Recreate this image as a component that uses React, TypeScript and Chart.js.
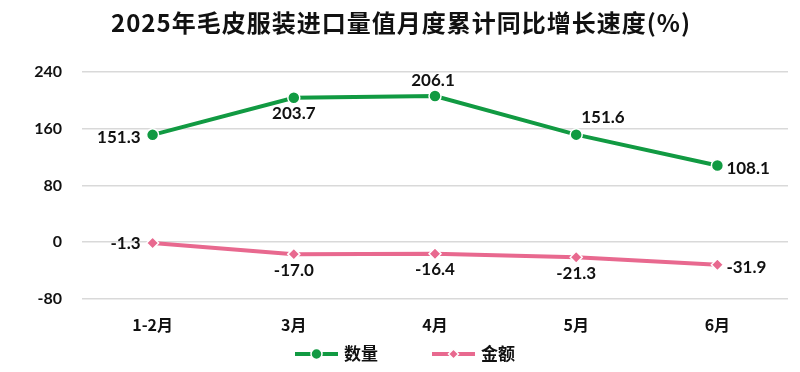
import React, { useEffect, useRef } from "react";
import { Chart, registerables } from "chart.js";

Chart.register(...registerables);

const TITLE = "2025年毛皮服装进口量值月度累计同比增长速度(%)";
const categories = ["1-2月", "3月", "4月", "5月", "6月"];
const seriesNames = ["数量", "金额"];
const quantityValues = [151.3, 203.7, 206.1, 151.6, 108.1];
const amountValues = [-1.3, -17.0, -16.4, -21.3, -31.9];
const yTicks = [-80, 0, 80, 160, 240];

const quantityLabelPos = ["left", "below", "above", "aboveRight", "right"];
const amountLabelPos = ["left", "below", "below", "below", "right"];

const GREEN = "#119a42";
const PINK = "#e8698f";
const NUM_FONT = 'Lato, "Noto Sans CJK SC", sans-serif';
const CJK_FONT = '"Noto Sans CJK SC", Lato, sans-serif';

const labelPlugin = {
  id: "customLabels",
  afterDatasetsDraw(chart: any) {
    const ctx = chart.ctx;
    ctx.save();
    ctx.font = `bold 17px ${NUM_FONT}`;
    ctx.fillStyle = "#111";
    chart.data.datasets.forEach((ds: any, di: number) => {
      const meta = chart.getDatasetMeta(di);
      const posArr = di === 0 ? quantityLabelPos : amountLabelPos;
      meta.data.forEach((pt: any, i: number) => {
        const v = ds.data[i];
        const txt = v.toFixed(1);
        const pos = posArr[i];
        let x = pt.x;
        let y = pt.y;
        ctx.textBaseline = "middle";
        if (pos === "left") {
          ctx.textAlign = "right";
          x -= 12;
          y += di === 0 ? 3 : 0;
        } else if (pos === "right") {
          ctx.textAlign = "left";
          x += 9;
          y += 3;
        } else if (pos === "below") {
          ctx.textAlign = "center";
          y += 16;
        } else if (pos === "above") {
          ctx.textAlign = "center";
          x -= 2;
          y -= 16;
        } else if (pos === "aboveRight") {
          ctx.textAlign = "left";
          x += 5;
          y -= 17;
        }
        ctx.fillText(txt, x, y);
      });
    });
    ctx.restore();
  },
};

const titleLegendPlugin = {
  id: "titleLegend",
  afterDraw(chart: any) {
    const ctx = chart.ctx;
    ctx.save();
    // title
    ctx.font = `bold 24px ${CJK_FONT}`;
    ctx.fillStyle = "#111";
    ctx.textAlign = "center";
    ctx.textBaseline = "middle";
    try {
      (ctx as any).letterSpacing = "1px";
    } catch (e) {}
    ctx.fillText(TITLE, 401, 23);
    try {
      (ctx as any).letterSpacing = "0px";
    } catch (e) {}
    // legend
    ctx.font = `bold 17px ${CJK_FONT}`;
    const lineLen = 43;
    const gapText = 6;
    const gapItems = 54;
    const widths = seriesNames.map((n) => ctx.measureText(n).width);
    const total = widths.reduce((a, b) => a + b, 0) + 2 * (lineLen + gapText) + gapItems;
    let x = 405 - total / 2;
    const y = 354;
    const colors = [GREEN, PINK];
    seriesNames.forEach((n, i) => {
      ctx.strokeStyle = colors[i];
      ctx.lineWidth = 4;
      ctx.beginPath();
      ctx.moveTo(x, y);
      ctx.lineTo(x + lineLen, y);
      ctx.stroke();
      const cx = x + lineLen / 2;
      ctx.fillStyle = colors[i];
      ctx.strokeStyle = "#fff";
      ctx.lineWidth = 1.5;
      ctx.beginPath();
      if (i === 0) {
        ctx.arc(cx, y, 5.5, 0, Math.PI * 2);
      } else {
        const r = 5;
        ctx.moveTo(cx, y - r);
        ctx.lineTo(cx + r, y);
        ctx.lineTo(cx, y + r);
        ctx.lineTo(cx - r, y);
        ctx.closePath();
      }
      ctx.fill();
      ctx.stroke();
      ctx.fillStyle = "#111";
      ctx.textAlign = "left";
      ctx.textBaseline = "middle";
      ctx.fillText(n, x + lineLen + gapText, y);
      x += lineLen + gapText + widths[i] + gapItems;
    });
    ctx.restore();
  },
};

export default function App() {
  const ref = useRef<HTMLCanvasElement>(null);
  useEffect(() => {
    if (!ref.current) return;
    const chart = new Chart(ref.current, {
      type: "line",
      data: {
        labels: categories,
        datasets: [
          {
            label: seriesNames[0],
            data: quantityValues,
            borderColor: GREEN,
            backgroundColor: GREEN,
            borderWidth: 4,
            pointStyle: "circle",
            pointRadius: 6,
            pointBorderColor: "#fff",
            pointBorderWidth: 1.5,
            pointBackgroundColor: GREEN,
            tension: 0,
          },
          {
            label: seriesNames[1],
            data: amountValues,
            borderColor: PINK,
            backgroundColor: PINK,
            borderWidth: 4,
            pointStyle: "rectRot",
            pointRadius: 6,
            pointBorderColor: "#fff",
            pointBorderWidth: 1.5,
            pointBackgroundColor: PINK,
            tension: 0,
          },
        ],
      },
      options: {
        animation: false,
        responsive: false,
        layout: { padding: { top: 72, bottom: 20, left: 0, right: 12 } },
        plugins: {
          legend: { display: false },
          title: { display: false },
          tooltip: { enabled: false },
        },
        scales: {
          x: {
            offset: true,
            grid: { display: false, drawTicks: false },
            border: { display: false },
            ticks: {
              color: "#111",
              padding: 17,
              font: { family: CJK_FONT, size: 16, weight: "bold" },
            },
          },
          y: {
            min: -80,
            max: 240,
            afterFit(scale: any) {
              scale.width = 82;
            },
            afterBuildTicks(scale: any) {
              scale.ticks = yTicks.map((v) => ({ value: v }));
            },
            grid: { color: "#d9d9d9", lineWidth: 1.5, drawTicks: false },
            border: { display: false },
            ticks: {
              color: "#111",
              padding: 20,
              font: { family: NUM_FONT, size: 16, weight: "bold" },
            },
          },
        },
      },
      plugins: [labelPlugin, titleLegendPlugin],
    });
    return () => chart.destroy();
  }, []);
  return (
    <div style={{ position: "absolute", left: 0, top: 0, width: 800, height: 372, background: "#fff" }}>
      <canvas ref={ref} width={800} height={372} style={{ width: 800, height: 372 }} />
    </div>
  );
}
